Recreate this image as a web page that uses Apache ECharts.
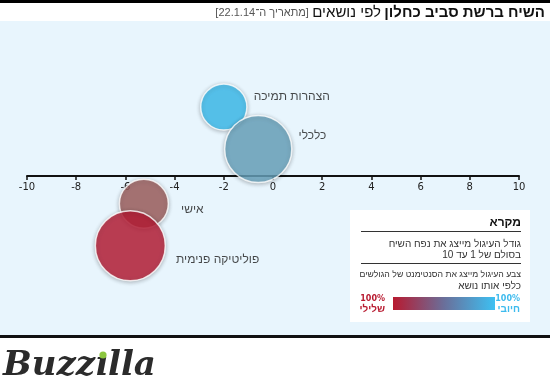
<!DOCTYPE html>
<html>
<head>
<meta charset="utf-8">
<script src="https://cdn.jsdelivr.net/npm/echarts@6/dist/echarts.min.js"></script>
<style>html,body{margin:0;padding:0;background:#fff}#c{width:550px;height:392px}</style>
</head>
<body>
<div id="c"></div>
<script>
const categories = ['הצהרות תמיכה', 'כלכלי', 'אישי', 'פוליטיקה פנימית'];
const xValues = [-2.0, -0.6, -5.25, -5.8];
const yValues = [4.6, 1.8, -1.85, -4.65];
const sizes = [6.6, 9.6, 7.0, 10];
const xTicks = [-10, 10, 2];

const colors = ['#3dc0f2', '#6aa6c0', '#a05f5e', '#ba1d36'];
const labelOffsets = [[0, -10], [0, -13], [6, 6], [4, 14]];
const FONT = 'Liberation Sans, DejaVu Sans, sans-serif';

const chart = echarts.init(document.getElementById('c'));
const data = categories.map((c, i) => ({
  name: c,
  value: [xValues[i], yValues[i], sizes[i]],
  itemStyle: { color: colors[i] },
  label: { offset: labelOffsets[i] }
}));

chart.setOption({
  backgroundColor: '#ffffff',
  animation: false,
  grid: { left: 27, right: 31, top: 26, height: 150 },
  xAxis: {
    type: 'value', min: xTicks[0], max: xTicks[1], interval: xTicks[2],
    position: 'bottom',
    splitLine: { show: false },
    axisLine: { onZero: false, lineStyle: { color: '#111', width: 2 } },
    axisTick: { show: true, length: 4, lineStyle: { color: '#111', width: 1.5 } },
    axisLabel: { color: '#222', fontSize: 10, margin: 6, fontFamily: 'DejaVu Sans, sans-serif' }
  },
  yAxis: { type: 'value', min: 0, max: 10, show: false },
  graphic: [
    { type: 'rect', z: -10, shape: { x: 0, y: 21, width: 550, height: 315 }, style: { fill: '#e8f5fd' } },
    { type: 'rect', z: -9, shape: { x: 0, y: 0, width: 550, height: 3 }, style: { fill: '#000' } },
    { type: 'rect', z: -9, shape: { x: 0, y: 335, width: 550, height: 3 }, style: { fill: '#111' } },
    { type: 'text', z: 5, right: 5, top: 5, style: {
        text: '{d|[מתאריך ה־22.1.14]} {n|לפי נושאים} {b|השיח ברשת סביב כחלון}',
        rich: {
          d: { fontSize: 11, fill: '#555', fontFamily: FONT },
          n: { fontSize: 15, fill: '#111', fontFamily: FONT },
          b: { fontSize: 15, fill: '#111', fontWeight: 'bold', fontFamily: FONT }
        }
    } },
    // legend box
    { type: 'rect', z: 5, shape: { x: 350, y: 210, width: 180, height: 112 }, style: { fill: '#ffffff' } },
    { type: 'text', z: 6, style: { x: 521, y: 223, text: 'מקרא', align: 'right', verticalAlign: 'middle', fontSize: 12, fontWeight: 'bold', fill: '#111', fontFamily: FONT } },
    { type: 'rect', z: 6, shape: { x: 361, y: 231, width: 160, height: 1 }, style: { fill: '#333' } },
    { type: 'text', z: 6, style: { x: 521, y: 244, text: 'גודל העיגול מייצג את נפח השיח', align: 'right', verticalAlign: 'middle', fontSize: 10, fill: '#333', fontFamily: FONT } },
    { type: 'text', z: 6, style: { x: 521, y: 255, text: 'בסולם של 1 עד 10', align: 'right', verticalAlign: 'middle', fontSize: 10, fill: '#333', fontFamily: FONT } },
    { type: 'rect', z: 6, shape: { x: 361, y: 263, width: 160, height: 1 }, style: { fill: '#333' } },
    { type: 'text', z: 6, style: { x: 521, y: 275, text: 'צבע העיגול מייצג את הסנטימנט של הגולשים', align: 'right', verticalAlign: 'middle', fontSize: 8.7, fill: '#333', fontFamily: FONT } },
    { type: 'text', z: 6, style: { x: 521, y: 286, text: 'כלפי אותו נושא', align: 'right', verticalAlign: 'middle', fontSize: 10, fill: '#333', fontFamily: FONT } },
    { type: 'rect', z: 6, shape: { x: 393, y: 297, width: 102, height: 13 }, style: {
        fill: new echarts.graphic.LinearGradient(0, 0, 1, 0, [
          { offset: 0, color: '#b81a30' }, { offset: 0.5, color: '#6a6f9a' }, { offset: 1, color: '#3dc0f2' }
        ]) } },
    { type: 'text', z: 6, style: { x: 520, y: 299, text: '100%', align: 'right', verticalAlign: 'middle', fontSize: 8, fontWeight: 'bold', fill: '#3dbbee', fontFamily: 'DejaVu Sans, sans-serif' } },
    { type: 'text', z: 6, style: { x: 520, y: 309, text: 'חיובי', align: 'right', verticalAlign: 'middle', fontSize: 10, fontWeight: 'bold', fill: '#3dbbee', fontFamily: FONT } },
    { type: 'text', z: 6, style: { x: 385, y: 299, text: '100%', align: 'right', verticalAlign: 'middle', fontSize: 8, fontWeight: 'bold', fill: '#b81a30', fontFamily: 'DejaVu Sans, sans-serif' } },
    { type: 'text', z: 6, style: { x: 385, y: 309, text: 'שלילי', align: 'right', verticalAlign: 'middle', fontSize: 10, fontWeight: 'bold', fill: '#b81a30', fontFamily: FONT } },
    // logo
    { type: 'text', z: 6, style: { x: 3, y: 366, text: 'Buzzılla', verticalAlign: 'middle', fontSize: 34, fontStyle: 'italic', fontWeight: 'bold', fill: '#2b2b2b', fontFamily: 'DejaVu Serif, serif' } },
    { type: 'circle', z: 7, shape: { cx: 103, cy: 355, r: 3.6 }, style: { fill: '#8cc63f' } }
  ],
  series: [{
    type: 'scatter',
    clip: false,
    data: data,
    symbolSize: v => v[2] * 7,
    itemStyle: { borderColor: '#ffffff', borderWidth: 1.5, shadowBlur: 4, shadowColor: 'rgba(0,0,0,0.3)', shadowOffsetY: 1 },
    label: { show: true, position: 'right', distance: 6, formatter: p => p.name, color: '#1a1a1a', fontSize: 12, fontFamily: FONT }
  }]
});
</script>
</body>
</html>
